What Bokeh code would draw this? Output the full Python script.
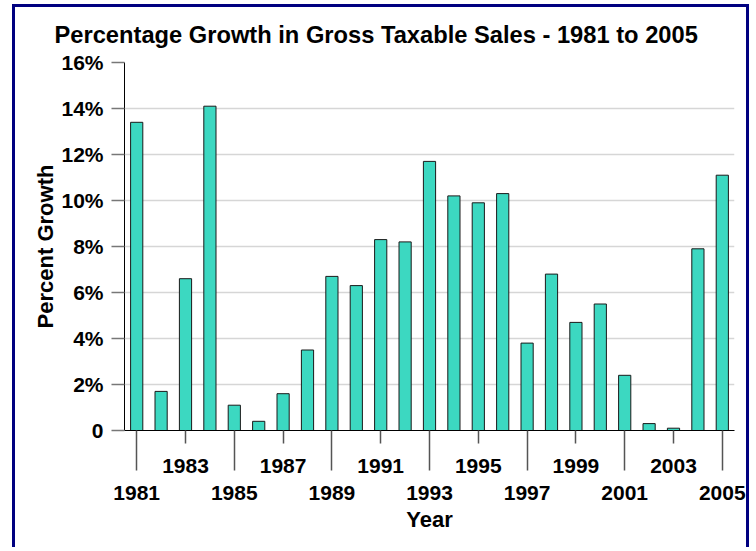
from bokeh.plotting import figure
from bokeh.models import FixedTicker, LinearAxis, Range1d, Title
from bokeh.embed import file_html
from bokeh.resources import INLINE

years = list(range(1981, 2006))
growth = [13.4, 1.7, 6.6, 14.1, 1.1, 0.4, 1.6, 3.5, 6.7, 6.3, 8.3, 8.2, 11.7,
          10.2, 9.9, 10.3, 3.8, 6.8, 4.7, 5.5, 2.4, 0.3, 0.1, 7.9, 11.1]
y_ticks = [0, 2, 4, 6, 8, 10, 12, 14, 16]
y_tick_labels = ["0", "2%", "4%", "6%", "8%", "10%", "12%", "14%", "16%"]
upper_row_years = [1983, 1987, 1991, 1995, 1999, 2003]
lower_row_years = [1981, 1985, 1989, 1993, 1997, 2001, 2005]

title_text = "Percentage Growth in Gross Taxable Sales - 1981 to 2005"
x_title = "Year"
y_title = "Percent Growth"

FONT = "Liberation Sans"
BAR = "#3cd8c1"

p = figure(width=737, height=543, output_backend="svg", toolbar_location=None,
           x_range=Range1d(years[0] - 0.5, years[-1] + 0.5),
           y_range=Range1d(0, 16), x_axis_location=None,
           min_border_left=109, min_border_right=18,
           min_border_top=55, min_border_bottom=120)
p.styles = {"border": "3px solid #000080", "border-bottom": "none",
            "margin-left": "12px", "margin-top": "4px"}
p.outline_line_color = None
p.background_fill_color = "white"
p.border_fill_color = None

t = Title(text=title_text, text_font=FONT, text_font_size="23.7px",
          text_font_style="bold", text_color="black", align="left",
          vertical_align="top", offset=-70, standoff=26)
p.add_layout(t, "above")

p.vbar(x=years, top=growth, width=0.5, fill_color=BAR,
       line_color="#1a1a1a", line_width=1)

# y axis
ya = p.yaxis[0]
ya.ticker = FixedTicker(ticks=y_ticks, minor_ticks=[])
ya.major_label_overrides = {v: s for v, s in zip(y_ticks, y_tick_labels)}
ya.major_tick_out = 13
ya.major_tick_in = 0
ya.minor_tick_out = 0
ya.minor_tick_in = 0
ya.major_tick_line_color = "#777777"
ya.major_tick_line_width = 1.5
ya.axis_line_color = "black"
ya.major_label_standoff = 8
ya.major_label_text_font = FONT
ya.major_label_text_font_style = "bold"
ya.major_label_text_font_size = "21px"
ya.major_label_text_color = "black"
ya.axis_label = y_title
ya.axis_label_text_font = FONT
ya.axis_label_text_font_style = "bold"
ya.axis_label_text_font_size = "22px"
ya.axis_label_text_color = "black"
ya.axis_label_standoff = 0

p.ygrid.ticker = FixedTicker(ticks=y_ticks)
p.ygrid.grid_line_color = "#d6d6d6"
p.ygrid.grid_line_width = 1.5
p.xgrid.visible = False

# x axis: upper row (short ticks + labels), long ticks as minor ticks
xa = LinearAxis(ticker=FixedTicker(ticks=upper_row_years, minor_ticks=lower_row_years))
xa.major_tick_out = 13
xa.major_tick_in = 0
xa.minor_tick_out = 40
xa.minor_tick_in = 0
xa.major_tick_line_color = "#555555"
xa.minor_tick_line_color = "#555555"
xa.major_tick_line_width = 1.5
xa.minor_tick_line_width = 1.5
xa.axis_line_color = "black"
xa.major_label_standoff = -12
xa.major_label_text_font = FONT
xa.major_label_text_font_style = "bold"
xa.major_label_text_font_size = "21px"
xa.major_label_text_color = "black"
p.add_layout(xa, "below")

# x axis: lower row labels
xb = LinearAxis(ticker=FixedTicker(ticks=lower_row_years, minor_ticks=[]))
xb.major_tick_out = 0
xb.major_tick_in = 0
xb.minor_tick_out = 0
xb.minor_tick_in = 0
xb.axis_line_color = None
xb.major_label_standoff = 10
xb.major_label_text_font = FONT
xb.major_label_text_font_style = "bold"
xb.major_label_text_font_size = "21px"
xb.major_label_text_color = "black"
xb.axis_label = x_title
xb.axis_label_text_font = FONT
xb.axis_label_text_font_style = "bold"
xb.axis_label_text_font_size = "22px"
xb.axis_label_text_color = "black"
xb.axis_label_standoff = 4
p.add_layout(xb, "below")

open("out.html", "w").write(file_html(p, INLINE))
